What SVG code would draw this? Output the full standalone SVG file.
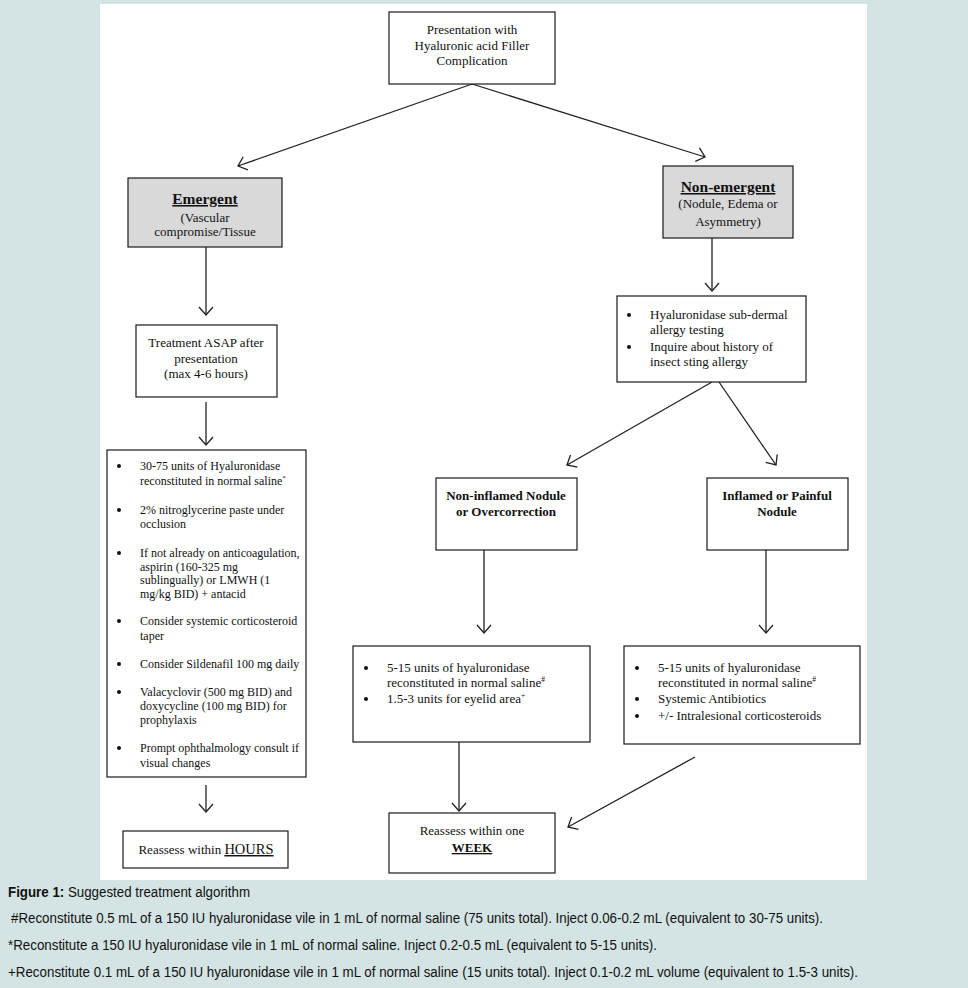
<svg xmlns="http://www.w3.org/2000/svg" width="968" height="988" viewBox="0 0 968 988">
<style>
.bg{fill:#d4e3e3}
.panel{fill:#ffffff}
.box{fill:#ffffff;stroke:#1a1a1a;stroke-width:1.2}
.gbox{fill:#d9d9d9;stroke:#1a1a1a;stroke-width:1.2}
.t{font-family:"Liberation Serif","Times New Roman",serif;font-size:13px;fill:#111}
.s{font-family:"Liberation Serif","Times New Roman",serif;font-size:12px;fill:#111}
.c{text-anchor:middle}
.h{font-weight:bold;font-size:15.5px;text-decoration:underline}
.b{font-weight:bold}
.u{text-decoration:underline}
.cap{font-family:"Liberation Sans",Arial,sans-serif;font-size:14px;fill:#111}
.conn line{stroke:#222;stroke-width:1.3;fill:none;marker-end:url(#ah)}
.dot{fill:#111}
</style>
<defs>
<marker id="ah" markerWidth="12" markerHeight="16" refX="10" refY="8" orient="auto" markerUnits="userSpaceOnUse" viewBox="0 0 12 16">
<path d="M2,1 L10,8 L2,15" fill="none" stroke="#222" stroke-width="1.3"/>
</marker>
</defs>
<rect class="bg" x="0" y="0" width="968" height="988"/>
<rect class="panel" x="100" y="4" width="767" height="876"/>

<g class="conn" id="connectors">
<line x1="472" y1="84" x2="238" y2="166"/>
<line x1="472" y1="84" x2="705" y2="157"/>
<line x1="206" y1="247" x2="206" y2="315"/>
<line x1="206" y1="402" x2="206" y2="445"/>
<line x1="206" y1="785" x2="206" y2="812"/>
<line x1="712" y1="238" x2="712" y2="291"/>
<line x1="712" y1="382" x2="567" y2="465"/>
<line x1="719" y1="382" x2="776" y2="465"/>
<line x1="484" y1="550" x2="484" y2="633"/>
<line x1="766" y1="550" x2="766" y2="633"/>
<line x1="459" y1="742" x2="459" y2="811"/>
<line x1="695" y1="757" x2="568" y2="827"/>
</g>

<g id="presentation">
<rect class="box" x="389" y="12" width="166" height="72"/>
<text class="t c" x="472" y="34">Presentation with</text>
<text class="t c" x="472" y="50">Hyaluronic acid Filler</text>
<text class="t c" x="472" y="65">Complication</text>
</g>

<g id="emergent">
<rect class="gbox" x="128" y="178" width="154" height="69"/>
<text class="t c h" x="205" y="204">Emergent</text>
<text class="t c" x="205" y="222">(Vascular</text>
<text class="t c" x="205" y="236">compromise/Tissue</text>
</g>

<g id="treatment">
<rect class="box" x="136" y="325" width="141" height="72"/>
<text class="t c" x="206" y="347">Treatment ASAP after</text>
<text class="t c" x="206" y="363">presentation</text>
<text class="t c" x="206" y="378">(max 4-6 hours)</text>
</g>

<g id="emergent-list">
<rect class="box" x="107" y="450" width="199" height="327"/>
<circle class="dot" cx="119" cy="466" r="2"/>
<text class="s" x="140" y="470">30-75 units of Hyaluronidase</text>
<text class="s" x="140" y="485">reconstituted in normal saline<tspan font-size="7" dy="-5">*</tspan></text>
<circle class="dot" cx="119" cy="510" r="2"/>
<text class="s" x="140" y="514">2% nitroglycerine paste under</text>
<text class="s" x="140" y="528">occlusion</text>
<circle class="dot" cx="119" cy="553" r="2"/>
<text class="s" x="140" y="557">If not already on anticoagulation,</text>
<text class="s" x="140" y="571">aspirin (160-325 mg</text>
<text class="s" x="140" y="584">sublingually) or LMWH (1</text>
<text class="s" x="140" y="598">mg/kg BID) + antacid</text>
<circle class="dot" cx="119" cy="621" r="2"/>
<text class="s" x="140" y="625">Consider systemic corticosteroid</text>
<text class="s" x="140" y="640">taper</text>
<circle class="dot" cx="119" cy="664" r="2"/>
<text class="s" x="140" y="668">Consider Sildenafil 100 mg daily</text>
<circle class="dot" cx="119" cy="692" r="2"/>
<text class="s" x="140" y="696">Valacyclovir (500 mg BID) and</text>
<text class="s" x="140" y="710">doxycycline (100 mg BID) for</text>
<text class="s" x="140" y="724">prophylaxis</text>
<circle class="dot" cx="119" cy="748" r="2"/>
<text class="s" x="140" y="752">Prompt ophthalmology consult if</text>
<text class="s" x="140" y="767">visual changes</text>
</g>

<g id="reassess-hours">
<rect class="box" x="123" y="831" width="165" height="37"/>
<text class="t c" x="206" y="854">Reassess within <tspan class="u" font-size="14.5px">HOURS</tspan></text>
</g>

<g id="non-emergent">
<rect class="gbox" x="663" y="166" width="130" height="72"/>
<text class="t c h" x="728" y="192">Non-emergent</text>
<text class="t c" x="728" y="208">(Nodule, Edema or</text>
<text class="t c" x="728" y="226">Asymmetry)</text>
</g>

<g id="allergy">
<rect class="box" x="617" y="296" width="189" height="86"/>
<circle class="dot" cx="629" cy="315" r="2"/>
<text class="t" x="650" y="319">Hyaluronidase sub-dermal</text>
<text class="t" x="650" y="334">allergy testing</text>
<circle class="dot" cx="629" cy="347" r="2"/>
<text class="t" x="650" y="351">Inquire about history of</text>
<text class="t" x="650" y="366">insect sting allergy</text>
</g>

<g id="non-inflamed">
<rect class="box" x="436" y="478" width="141" height="72"/>
<text class="t c b" x="506" y="500">Non-inflamed Nodule</text>
<text class="t c b" x="506" y="516">or Overcorrection</text>
</g>

<g id="inflamed">
<rect class="box" x="707" y="478" width="141" height="72"/>
<text class="t c b" x="777" y="500">Inflamed or Painful</text>
<text class="t c b" x="777" y="516">Nodule</text>
</g>

<g id="non-inflamed-list">
<rect class="box" x="353" y="646" width="237" height="96"/>
<circle class="dot" cx="366" cy="668" r="2"/>
<text class="t" x="387" y="672">5-15 units of hyaluronidase</text>
<text class="t" x="387" y="687">reconstituted in normal saline<tspan font-size="7.5" dy="-5">#</tspan></text>
<circle class="dot" cx="366" cy="699" r="2"/>
<text class="t" x="387" y="703">1.5-3 units for eyelid area<tspan font-size="7.5" dy="-5">+</tspan></text>
</g>

<g id="inflamed-list">
<rect class="box" x="624" y="646" width="236" height="98"/>
<circle class="dot" cx="637" cy="668" r="2"/>
<text class="t" x="658" y="672">5-15 units of hyaluronidase</text>
<text class="t" x="658" y="687">reconstituted in normal saline<tspan font-size="7.5" dy="-5">#</tspan></text>
<circle class="dot" cx="637" cy="699" r="2"/>
<text class="t" x="658" y="703">Systemic Antibiotics</text>
<circle class="dot" cx="637" cy="716" r="2"/>
<text class="t" x="658" y="720">+/- Intralesional corticosteroids</text>
</g>

<g id="reassess-week">
<rect class="box" x="389" y="813" width="166" height="60"/>
<text class="t c" x="472" y="835">Reassess within one</text>
<text class="t c b u" x="472" y="852" font-size="14px">WEEK</text>
</g>

<g id="caption">
<text class="cap" x="8" y="897" textLength="242" lengthAdjust="spacingAndGlyphs"><tspan font-weight="bold">Figure 1:</tspan> Suggested treatment algorithm</text>
<text class="cap" x="11" y="923" textLength="812" lengthAdjust="spacingAndGlyphs">#Reconstitute 0.5 mL of a 150 IU hyaluronidase vile in 1 mL of normal saline (75 units total). Inject 0.06-0.2 mL (equivalent to 30-75 units).</text>
<text class="cap" x="8" y="950" textLength="649" lengthAdjust="spacingAndGlyphs">*Reconstitute a 150 IU hyaluronidase vile in 1 mL of normal saline. Inject 0.2-0.5 mL (equivalent to 5-15 units).</text>
<text class="cap" x="8" y="977" textLength="850" lengthAdjust="spacingAndGlyphs">+Reconstitute 0.1 mL of a 150 IU hyaluronidase vile in 1 mL of normal saline (15 units total). Inject 0.1-0.2 mL volume (equivalent to 1.5-3 units).</text>
</g>
</svg>
